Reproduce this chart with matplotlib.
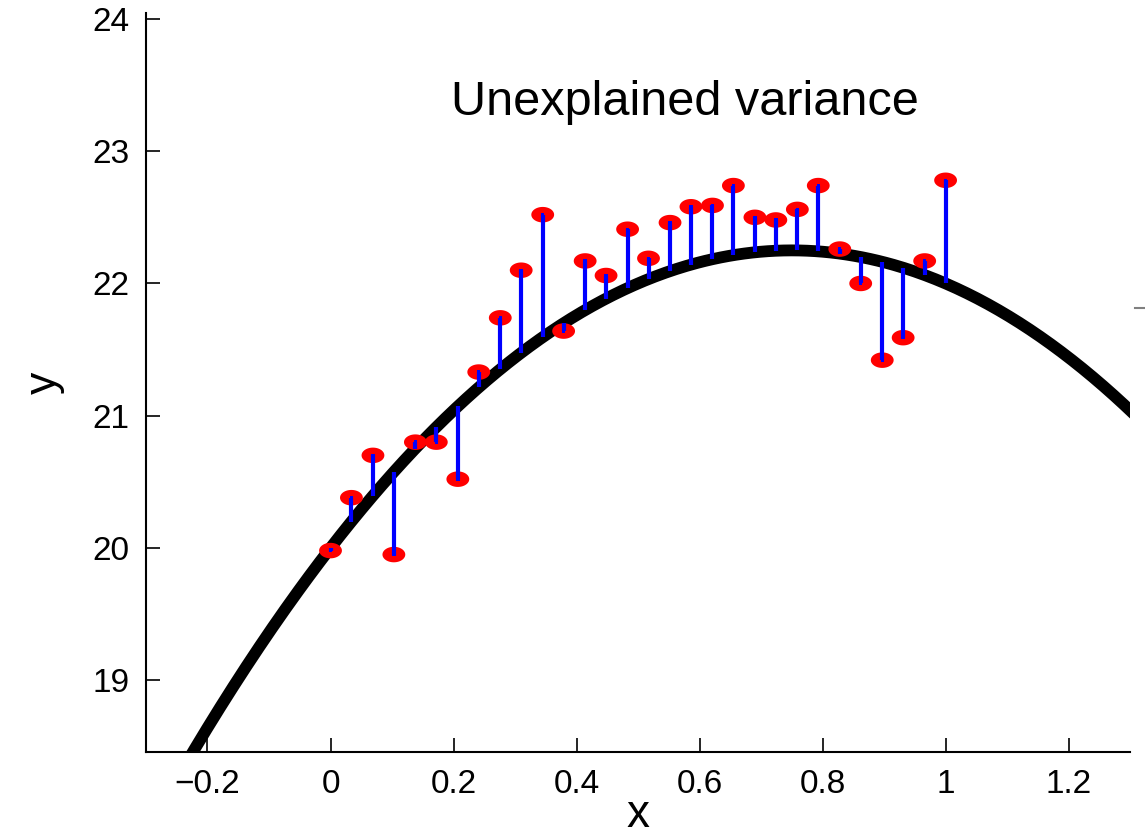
import numpy as np
import matplotlib
matplotlib.use("Agg")
import matplotlib.pyplot as plt
from matplotlib.path import Path

# Observations
x_obs = [0.000, 0.034, 0.069, 0.103, 0.138, 0.172, 0.207, 0.241, 0.276, 0.310,
         0.345, 0.379, 0.414, 0.448, 0.483, 0.517, 0.552, 0.586, 0.621, 0.655,
         0.690, 0.724, 0.759, 0.793, 0.828, 0.862, 0.897, 0.931, 0.966, 1.000]
y_obs = [19.98, 20.38, 20.70, 19.95, 20.80, 20.80, 20.52, 21.33, 21.74, 22.10,
         22.52, 21.64, 22.17, 22.06, 22.41, 22.19, 22.46, 22.58, 22.59, 22.74,
         22.50, 22.48, 22.56, 22.74, 22.26, 22.00, 21.42, 21.59, 22.17, 22.78]

# Fitted quadratic model, highest power first
fit_coeffs = [-4.0, 6.0, 20.0]

x_ticks = [-0.2, 0, 0.2, 0.4, 0.6, 0.8, 1.0, 1.2]
x_tick_labels = ["\u22120.2", "0", "0.2", "0.4", "0.6", "0.8", "1", "1.2"]
y_ticks = [19, 20, 21, 22, 23, 24]

plt.rcParams["font.family"] = ["Liberation Sans", "DejaVu Sans"]

fig = plt.figure(figsize=(11.45, 8.39), dpi=100)
ax = fig.add_axes([0.1275, 0.1037, 0.8595, 0.8808])

xx = np.linspace(-0.35, 1.35, 400)
ax.plot(xx, np.polyval(fit_coeffs, xx), color="black", lw=8.5,
        solid_capstyle="butt", zorder=2)

# Slightly flattened round marker
t = np.linspace(0, 2 * np.pi, 60)
ellipse = Path(np.column_stack([np.cos(t), 0.68 * np.sin(t)]), closed=True)

x_arr = np.array(x_obs)
y_arr = np.array(y_obs)
y_fit = np.polyval(fit_coeffs, x_arr)

ax.scatter(x_arr, y_arr, s=270, marker=ellipse, color="red",
           edgecolors="none", zorder=3)
ax.vlines(x_arr, y_fit, y_arr, color="blue", lw=3, zorder=4)
ax.scatter(x_arr, y_arr, s=6, marker="s", color="blue",
           edgecolors="none", zorder=4)

ax.set_xlim(-0.3, 1.3)
ax.set_ylim(18.457, 24.045)

ax.set_xticks(x_ticks)
ax.set_xticklabels(x_tick_labels)
ax.set_yticks(y_ticks)
ax.tick_params(direction="in", length=10, width=1.2, labelsize=24, pad=12)

for side in ("top", "right"):
    ax.spines[side].set_visible(False)
for side in ("left", "bottom"):
    ax.spines[side].set_linewidth(1.5)

ax.set_xlabel("x", fontsize=33, labelpad=-5)
ax.set_ylabel("y", fontsize=32, labelpad=20)

ax.text(0.576, 23.37, "Unexplained variance", fontsize=35, ha="center",
        va="center")

# Small stray tick at the right edge
fig.add_artist(plt.Line2D([1135 / 1145, 1145 / 1145],
                          [1 - 308 / 839, 1 - 308 / 839],
                          color="gray", lw=1.5))

fig.savefig("out.png", dpi=100)
